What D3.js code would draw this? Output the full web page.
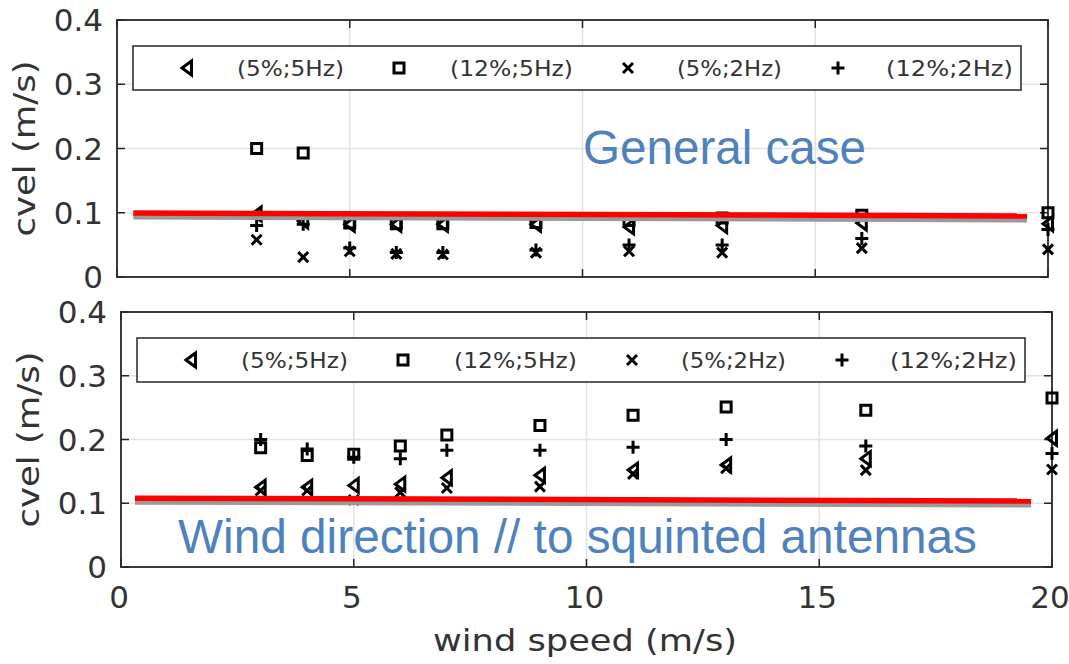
<!DOCTYPE html>
<html>
<head>
<meta charset="utf-8">
<script src="https://cdn.jsdelivr.net/npm/d3@7"></script>
<style>
  body { margin: 0; background: #fff; }
  svg { display: block; }
</style>
</head>
<body>
<svg id="chart" width="1069" height="664"></svg>
<script>
// ---- data ----------------------------------------------------------
const windSpeed = [3, 4, 5, 6, 7, 9, 11, 13, 16, 20];
const seriesLabels = ["(5%;5Hz)", "(12%;5Hz)", "(5%;2Hz)", "(12%;2Hz)"];
const markerKinds = ["triangle", "square", "cross", "plus"];
const xTicks = [0, 5, 10, 15, 20];
const yTicks = [0, 0.1, 0.2, 0.3, 0.4];
const yTickLabels = ["0", "0.1", "0.2", "0.3", "0.4"];

// General case
const general5pct5Hz  = [0.098, 0.087, 0.082, 0.082, 0.082, 0.082, 0.078, 0.080, 0.084, 0.083];
const general12pct5Hz = [0.200, 0.193, 0.084, 0.083, 0.083, 0.085, 0.088, 0.092, 0.096, 0.100];
const general5pct2Hz  = [0.058, 0.031, 0.040, 0.036, 0.035, 0.038, 0.040, 0.038, 0.045, 0.043];
const general12pct2Hz = [0.080, 0.082, 0.045, 0.038, 0.038, 0.042, 0.050, 0.050, 0.060, 0.074];

// Wind direction parallel to squinted antennas
const parallel5pct5Hz  = [0.125, 0.125, 0.128, 0.130, 0.140, 0.144, 0.152, 0.160, 0.170, 0.202];
const parallel12pct5Hz = [0.187, 0.175, 0.177, 0.190, 0.207, 0.222, 0.238, 0.251, 0.246, 0.265];
const parallel5pct2Hz  = [0.120, 0.120, 0.105, 0.117, 0.124, 0.126, 0.146, 0.155, 0.152, 0.153];
const parallel12pct2Hz = [0.200, 0.185, 0.172, 0.170, 0.183, 0.183, 0.188, 0.200, 0.190, 0.178];

// Reference level lines (wind speed, cvel)
const generalLevel  = [[0.35, 0.0995], [19.55, 0.0950]];
const parallelLevel = [[0.30, 0.1080], [19.55, 0.1035]];

const panelTitles = ["General case", "Wind direction // to squinted antennas"];

// ---- layout --------------------------------------------------------
const svg = d3.select("#chart");
const font = "'DejaVu Sans', sans-serif";
const axisColor = "#262626";

const panels = [
  { left: 117, right: 1048, top: 20, bottom: 277,
    series: [general5pct5Hz, general12pct5Hz, general5pct2Hz, general12pct2Hz],
    level: generalLevel, title: panelTitles[0], titleX: 583, titleY: 164, titleLen: 283 },
  { left: 121, right: 1052, top: 312, bottom: 567,
    series: [parallel5pct5Hz, parallel12pct5Hz, parallel5pct2Hz, parallel12pct2Hz],
    level: parallelLevel, title: panelTitles[1], titleX: 178, titleY: 553, titleLen: 799 }
];

const markerPath = {
  triangle: "M4.5,-7L-5,0L4.5,7Z",
  square: "M-5,-5H5V5H-5Z",
  cross: "M-5,-5L5,5M5,-5L-5,5",
  plus: "M-6.5,0H6.5M0,-6.5V6.5"
};
const markerStroke = 3;

panels.forEach((p, pi) => {
  const x = d3.scaleLinear().domain([0, 20]).range([p.left, p.right]);
  const y = d3.scaleLinear().domain([0, 0.4]).range([p.bottom, p.top]);
  const g = svg.append("g");

  // grid
  g.append("g").selectAll("line").data(xTicks.slice(1, -1)).join("line")
    .attr("x1", d => x(d)).attr("x2", d => x(d))
    .attr("y1", p.top).attr("y2", p.bottom)
    .attr("stroke", "#e3e3e3").attr("stroke-width", 1.5);
  g.append("g").selectAll("line").data(yTicks.slice(1, -1)).join("line")
    .attr("y1", d => y(d)).attr("y2", d => y(d))
    .attr("x1", p.left).attr("x2", p.right)
    .attr("stroke", "#e3e3e3").attr("stroke-width", 1.5);

  // inward ticks on all four sides
  const tl = 8;
  const tickStyle = sel => sel.attr("stroke", axisColor).attr("stroke-width", 1.5);
  g.append("g").selectAll("line").data(xTicks).join("line")
    .attr("x1", d => x(d)).attr("x2", d => x(d))
    .attr("y1", p.bottom).attr("y2", p.bottom - tl).call(tickStyle);
  g.append("g").selectAll("line").data(xTicks).join("line")
    .attr("x1", d => x(d)).attr("x2", d => x(d))
    .attr("y1", p.top).attr("y2", p.top + tl).call(tickStyle);
  g.append("g").selectAll("line").data(yTicks).join("line")
    .attr("y1", d => y(d)).attr("y2", d => y(d))
    .attr("x1", p.left).attr("x2", p.left + tl).call(tickStyle);
  g.append("g").selectAll("line").data(yTicks).join("line")
    .attr("y1", d => y(d)).attr("y2", d => y(d))
    .attr("x1", p.right).attr("x2", p.right - tl).call(tickStyle);

  // box
  g.append("rect")
    .attr("x", p.left).attr("y", p.top)
    .attr("width", p.right - p.left).attr("height", p.bottom - p.top)
    .attr("fill", "none").attr("stroke", axisColor).attr("stroke-width", 1.8);

  // y tick labels
  g.append("g").selectAll("text").data(yTicks).join("text")
    .attr("x", p.left - 14).attr("y", d => y(d))
    .attr("dy", "0.36em")
    .attr("text-anchor", "end")
    .attr("font-family", font).attr("font-size", 31)
    .attr("fill", "#333")
    .text((d, i) => yTickLabels[i]);

  // y axis title
  g.append("text")
    .attr("transform", `translate(${p.left - 82},${(p.top + p.bottom) / 2}) rotate(-90)`)
    .attr("text-anchor", "middle")
    .attr("font-family", font).attr("font-size", 31)
    .attr("textLength", 176).attr("lengthAdjust", "spacingAndGlyphs")
    .attr("fill", "#333")
    .text("cvel (m/s)");

  // legend
  const lg = g.append("g");
  const lgTop = p.top + 26, lgBot = p.top + 70;
  lg.append("rect")
    .attr("x", p.left + 16).attr("y", lgTop)
    .attr("width", 888).attr("height", lgBot - lgTop)
    .attr("fill", "#fff").attr("stroke", axisColor).attr("stroke-width", 1.5);
  const legendMarkerX = [70, 282, 511, 721];
  const legendTextX = [120, 333, 560, 769];
  const legendTextLen = [107, 123, 105, 127];
  const lgMid = (lgTop + lgBot) / 2;
  markerKinds.forEach((k, i) => {
    lg.append("path")
      .attr("d", markerPath[k])
      .attr("transform", `translate(${p.left + legendMarkerX[i]},${lgMid})`)
      .attr("fill", "none").attr("stroke", "#000").attr("stroke-width", markerStroke);
    lg.append("text")
      .attr("x", p.left + legendTextX[i]).attr("y", lgMid)
      .attr("dy", "0.36em")
      .attr("font-family", font).attr("font-size", 22)
      .attr("textLength", legendTextLen[i]).attr("lengthAdjust", "spacingAndGlyphs")
      .attr("fill", "#333")
      .text(seriesLabels[i]);
  });

  // data markers
  p.series.forEach((vals, si) => {
    g.append("g").selectAll("path").data(vals).join("path")
      .attr("d", markerPath[markerKinds[si]])
      .attr("transform", (d, i) => `translate(${x(windSpeed[i])},${y(d)})`)
      .attr("fill", "none").attr("stroke", "#000").attr("stroke-width", markerStroke);
  });

  // level line with drop shadow
  const line = d3.line().x(d => x(d[0])).y(d => y(d[1]));
  g.append("path").attr("d", line(p.level))
    .attr("transform", "translate(0,4)")
    .attr("fill", "none").attr("stroke", "#9a9a9a").attr("stroke-width", 5);
  g.append("path").attr("d", line(p.level))
    .attr("fill", "none").attr("stroke", "#ff0000").attr("stroke-width", 5.5);

  // panel caption
  g.append("text")
    .attr("x", p.titleX).attr("y", p.titleY)
    .attr("font-family", "'Liberation Sans', Arial, sans-serif")
    .attr("font-size", 47.5)
    .attr("textLength", p.titleLen).attr("lengthAdjust", "spacingAndGlyphs")
    .attr("fill", "#4f81bd")
    .text(p.title);

  // x tick labels and title on the lower panel only
  if (pi === panels.length - 1) {
    g.append("g").selectAll("text").data(xTicks).join("text")
      .attr("x", d => x(d) - 2).attr("y", p.bottom + 30)
      .attr("dy", "0.36em")
      .attr("text-anchor", "middle")
      .attr("font-family", font).attr("font-size", 31)
      .attr("fill", "#333")
      .text(d => d);
    g.append("text")
      .attr("x", 585).attr("y", 651)
      .attr("text-anchor", "middle")
      .attr("font-family", font).attr("font-size", 31)
      .attr("textLength", 304).attr("lengthAdjust", "spacingAndGlyphs")
      .attr("fill", "#333")
      .text("wind speed (m/s)");
  }
});
</script>
</body>
</html>
